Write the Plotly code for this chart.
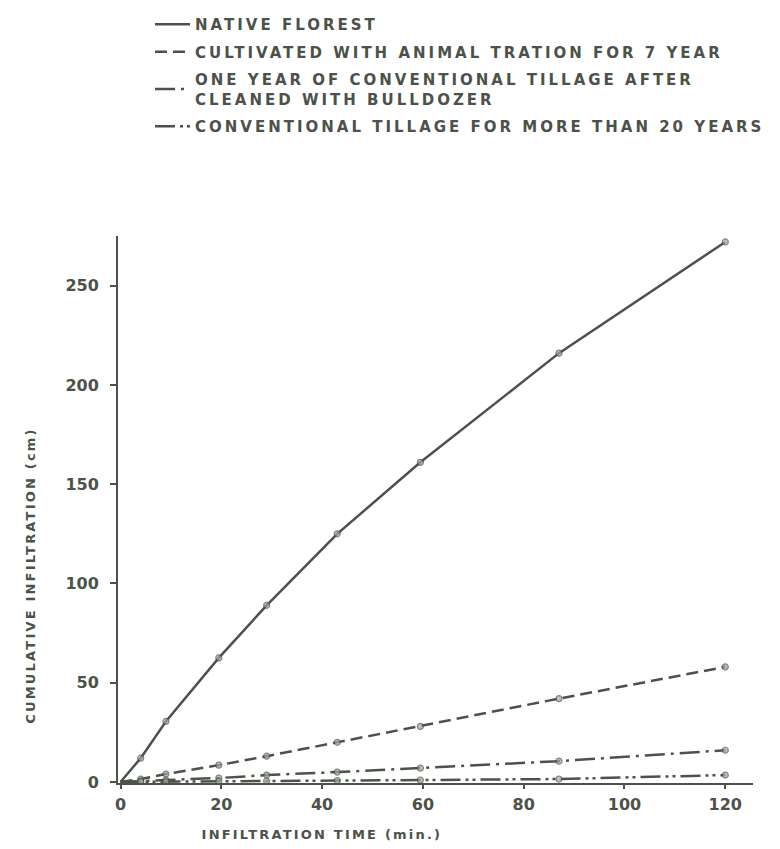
import plotly.graph_objects as go

# ---- data ----
time_min = [0, 4, 9, 19.5, 29, 43, 59.5, 87, 120]
native_forest = [0, 12, 30.5, 62.5, 89, 125, 161, 216, 272]
animal_traction_7y = [0, 1.5, 4, 8.5, 13, 20, 28, 42, 58]
one_year_bulldozer = [0, 0.5, 1, 2, 3.5, 5, 7, 10.5, 16]
conventional_20y = [0, 0.1, 0.2, 0.4, 0.5, 0.7, 1, 1.5, 3.5]

series_names = [
    "NATIVE FLOREST",
    "CULTIVATED WITH ANIMAL TRATION FOR 7 YEAR",
    "ONE YEAR OF CONVENTIONAL TILLAGE AFTER<br>CLEANED WITH BULLDOZER",
    "CONVENTIONAL TILLAGE FOR MORE THAN 20 YEARS",
]
x_ticks = [0, 20, 40, 60, 80, 100, 120]
y_ticks = [0, 50, 100, 150, 200, 250]

series_values = [native_forest, animal_traction_7y, one_year_bulldozer, conventional_20y]
dash_styles = ["solid", "12px,6px", "20px,6px,3px,6px", "20px,5px,3px,4px,3px,5px"]

INK = "#4b5249"
FONT = "DejaVu Sans"

# plot-area geometry (pixels) used to place the free text labels
L, R, T, B, W, H = 110, 35, 228, 74, 780, 849
PW, PH = W - L - R, H - T - B


def px_to_paper(px, py):
    return (px - L) / PW, (H - B - py) / PH


fig = go.Figure()
for i, (name, vals, dash) in enumerate(zip(series_names, series_values, dash_styles)):
    fig.add_trace(go.Scatter(
        x=time_min, y=vals, mode="lines+markers",
        line=dict(color=INK, width=2.5, dash=dash),
        marker=dict(size=[0] + [6] * (len(vals) - 1), color="#a3a99f",
                    line=dict(color=INK, width=1.2)),
        showlegend=False, name=name.replace("<br>", " "),
    ))
    # legend entry (line only)
    fig.add_trace(go.Scatter(
        x=[None], y=[None], mode="lines", name=name,
        line=dict(color=INK, width=2.6, dash=dash),
        legendgroup=f"g{i}", showlegend=True,
    ))

axis_common = dict(
    showline=True, linecolor=INK, linewidth=2, showgrid=False, zeroline=False,
    ticks="outside", tickcolor=INK, tickwidth=1.5,
    tickfont=dict(family=FONT, size=16, color=INK, weight="bold"),
)

xt_x, xt_y = px_to_paper(314, 826)
yt_x, yt_y = px_to_paper(22, 568)

fig.update_layout(
    width=W, height=H,
    margin=dict(l=L, r=R, t=T, b=B, autoexpand=False),
    paper_bgcolor="white", plot_bgcolor="white",
    xaxis=dict(range=[-0.5, 125.5], tickvals=x_ticks, ticklen=4,
               ticklabelstandoff=2, **axis_common),
    yaxis=dict(range=[-0.5, 275], tickvals=y_ticks, ticklen=6,
               ticklabelstandoff=8, **axis_common),
    legend=dict(
        xref="container", yref="container", x=142 / W, y=1,
        xanchor="left", yanchor="top", traceorder="grouped", tracegroupgap=5,
        font=dict(family=FONT, size=15, color=INK, weight="bold"),
        itemwidth=35, bgcolor="rgba(0,0,0,0)",
    ),
    annotations=[
        dict(text="INFILTRATION TIME (min.)", xref="paper", yref="paper",
             x=xt_x, y=xt_y, xanchor="center", yanchor="middle", showarrow=False,
             font=dict(family=FONT, size=13, color=INK, weight="bold")),
        dict(text="CUMULATIVE INFILTRATION (cm)", xref="paper", yref="paper",
             x=yt_x, y=yt_y, xanchor="center", yanchor="middle", showarrow=False,
             textangle=-90,
             font=dict(family=FONT, size=13, color=INK, weight="bold")),
    ],
)

# widen the letter spacing of the stencil-like lettering of the original
post = """
var gd = document.getElementById('{plot_id}');
function widen() {
  gd.querySelectorAll('text.legendtext').forEach(function (t) { t.style.letterSpacing = '3px'; });
  gd.querySelectorAll('g.legend .scrollbox, g.legend').forEach(function (g) { g.removeAttribute('clip-path'); });
  gd.querySelectorAll('g.annotation text').forEach(function (t) { t.style.letterSpacing = '2.2px'; });
}
widen();
if (gd.on) { gd.on('plotly_afterplot', widen); }
"""

fig.write_html("out.html", post_script=post)
